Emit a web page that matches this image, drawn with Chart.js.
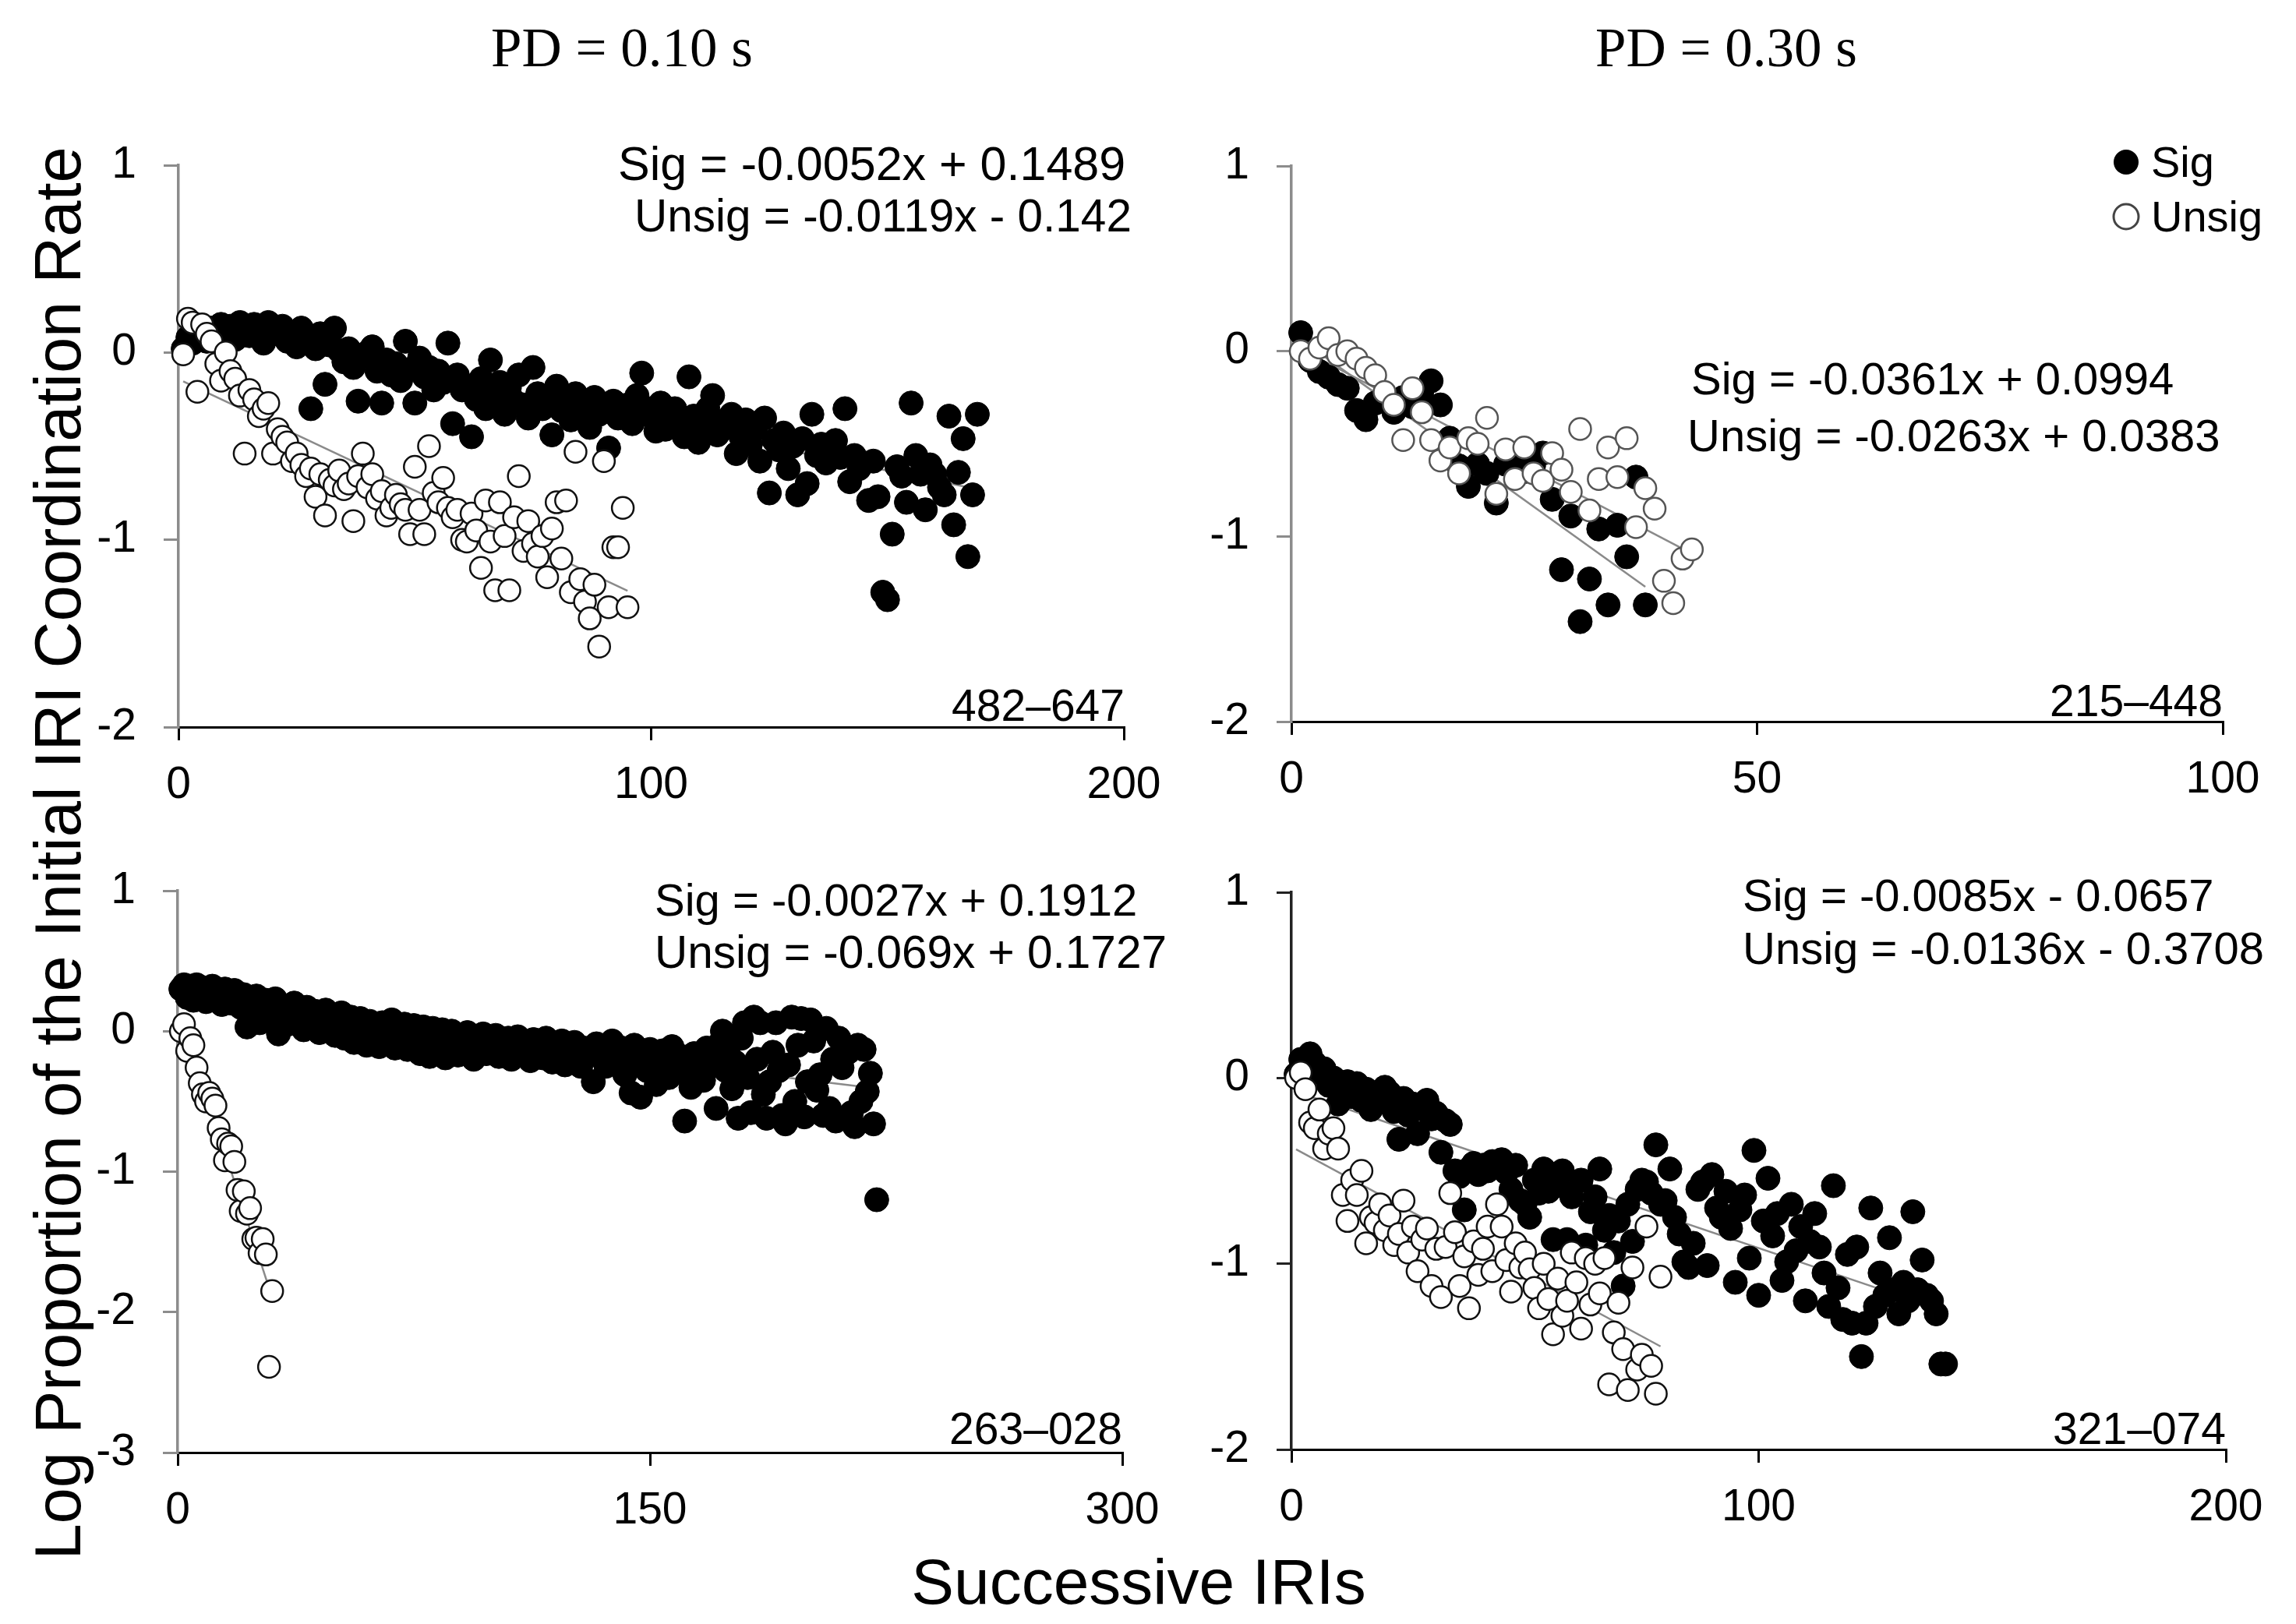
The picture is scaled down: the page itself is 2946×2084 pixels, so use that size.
<!DOCTYPE html>
<html><head><meta charset="utf-8">
<script src="https://cdn.jsdelivr.net/npm/chart.js@4.4.0/dist/chart.umd.min.js"></script>
<style>
html,body{margin:0;padding:0;background:#fff;}
#wrap{position:relative;width:2946px;height:2084px;background:#fff;overflow:hidden;}
#wrap canvas{position:absolute;left:0;top:0;}
</style></head><body>
<div id="wrap">
<canvas id="cTL" width="2946" height="2084"></canvas>
<canvas id="cTR" width="2946" height="2084"></canvas>
<canvas id="cBL" width="2946" height="2084"></canvas>
<canvas id="cBR" width="2946" height="2084"></canvas>
</div>
<script>
// ---------------- DATA ----------------
const seriesNames = ['Sig', 'Unsig'];
const panelTitles = ['PD = 0.10 s', 'PD = 0.30 s'];
const yAxisTitle = 'Log Proportion of the Initial IRI Coordination Rate';
const xAxisTitle = 'Successive IRIs';

// Top-left (PD = 0.10 s, 482–647)
const tlSig = [0.02,0.08,0.05,0.12,0.10,0.06,0.13,0.09,0.15,0.11,
 0.14,0.07,0.16,0.12,0.09,0.15,0.13,0.05,0.16,0.12,
 0.10,0.14,0.06,0.11,0.03,0.13,0.08,-0.30,0.02,0.10,
 -0.17,0.04,0.13,0.01,-0.05,0.02,-0.08,-0.26,-0.02,0.00,
 0.03,-0.10,-0.27,-0.04,-0.12,-0.06,-0.15,0.06,-0.09,-0.27,
 -0.03,-0.13,-0.08,-0.20,-0.10,-0.16,0.05,-0.38,-0.12,-0.20,
 -0.18,-0.45,-0.25,-0.14,-0.30,-0.04,-0.22,-0.16,-0.33,-0.19,
 -0.26,-0.12,-0.28,-0.35,-0.08,-0.22,-0.30,-0.25,-0.44,-0.18,
 -0.31,-0.27,-0.36,-0.22,-0.30,-0.28,-0.40,-0.24,-0.33,-0.29,
 -0.51,-0.26,-0.35,-0.31,-0.28,-0.38,-0.23,-0.11,-0.33,-0.30,
 -0.42,-0.27,-0.41,-0.36,-0.30,-0.38,-0.45,-0.13,-0.34,-0.48,
 -0.39,-0.30,-0.23,-0.44,-0.37,-0.40,-0.33,-0.54,-0.45,-0.36,
 -0.49,-0.41,-0.58,-0.35,-0.75,-0.47,-0.52,-0.43,-0.62,-0.50,
 -0.76,-0.46,-0.70,-0.33,-0.55,-0.49,-0.59,-0.52,-0.47,-0.56,
 -0.30,-0.69,-0.55,-0.62,-0.59,-0.79,-0.58,-0.77,-1.28,-1.32,
 -0.97,-0.61,-0.66,-0.80,-0.27,-0.55,-0.65,-0.84,-0.60,-0.65,
 -0.72,-0.76,-0.34,-0.92,-0.64,-0.46,-1.09,-0.76,-0.33];
const tlUnsig = [-0.01,0.18,0.16,-0.21,0.15,0.10,0.06,-0.06,-0.15,0.00,
 -0.10,-0.14,-0.23,-0.54,-0.20,-0.25,-0.34,-0.30,-0.27,-0.54,
 -0.41,-0.45,-0.48,-0.58,-0.54,-0.60,-0.66,-0.62,-0.77,-0.65,
 -0.87,-0.68,-0.71,-0.63,-0.73,-0.70,-0.90,-0.66,-0.54,-0.72,
 -0.65,-0.78,-0.74,-0.87,-0.83,-0.76,-0.81,-0.84,-0.97,-0.61,
 -0.84,-0.97,-0.50,-0.75,-0.80,-0.67,-0.83,-0.88,-0.84,-1.00,
 -1.01,-0.86,-0.95,-1.15,-0.79,-1.01,-1.27,-0.80,-0.98,-1.27,
 -0.88,-0.66,-1.06,-0.90,-1.02,-1.09,-0.98,-1.20,-0.94,-0.80,
 -1.10,-0.79,-1.28,-0.53,-1.21,-1.33,-1.42,-1.24,-1.57,-0.58,
 -1.36,-1.04,-1.04,-0.83,-1.36];
const tlSlopes = [-0.0052, -0.0119];
const tlIntercepts = [0.1489, -0.142];
const tlEquations = ['Sig = -0.0052x + 0.1489', 'Unsig = -0.0119x - 0.142'];
const tlTag = '482\u2013647';

// Top-right (PD = 0.30 s, 215–448)
const trSig = [0.10,-0.05,-0.11,-0.14,-0.18,-0.20,-0.32,-0.37,-0.28,-0.24,
 -0.33,-0.25,-0.30,-0.22,-0.16,-0.29,-0.47,-0.62,-0.73,-0.61,
 -0.66,-0.82,-0.61,-0.58,-0.65,-0.62,-0.55,-0.80,-1.18,-0.89,
 -1.46,-1.23,-0.96,-1.37,-0.94,-1.11,-0.68,-1.37];
const trUnsig = [0.00,-0.04,0.02,0.07,-0.02,0.00,-0.04,-0.09,-0.13,-0.22,
 -0.29,-0.48,-0.20,-0.33,-0.48,-0.59,-0.52,-0.66,-0.47,-0.50,
 -0.36,-0.77,-0.53,-0.69,-0.52,-0.66,-0.70,-0.55,-0.64,-0.76,
 -0.42,-0.86,-0.69,-0.52,-0.68,-0.47,-0.95,-0.74,-0.85,-1.24,
 -1.36,-1.12,-1.07];
const trSlopes = [-0.0361, -0.0263];
const trIntercepts = [0.0994, 0.0383];
const trEquations = ['Sig = -0.0361x + 0.0994', 'Unsig = -0.0263x + 0.0383'];
const trTag = '215\u2013448';

// Bottom-left (PD = 0.10 s, 263–028)
const blSig = [0.30,0.33,0.24,0.32,0.22,0.33,0.27,0.31,0.21,0.29,
 0.32,0.22,0.28,0.19,0.30,0.24,0.20,0.29,0.23,0.17,
 0.26,0.03,0.21,0.14,0.25,0.06,0.19,0.22,0.09,0.16,
 0.23,-0.02,0.12,0.18,0.05,0.15,0.20,0.07,0.13,0.01,
 0.17,0.04,0.10,0.14,-0.01,0.08,0.15,0.02,0.11,-0.03,
 0.09,0.13,-0.05,0.06,0.10,-0.08,0.04,0.09,-0.02,-0.10,
 0.07,-0.04,0.03,-0.11,0.06,0.01,-0.07,0.08,-0.12,0.02,
 -0.05,0.05,-0.13,0.00,0.04,-0.09,-0.16,0.03,-0.02,-0.18,
 0.02,-0.06,-0.14,0.01,-0.19,-0.03,0.00,-0.10,-0.17,-0.04,
 -0.08,-0.01,-0.15,-0.20,-0.05,-0.11,-0.02,-0.16,-0.07,-0.12,
 -0.03,-0.18,-0.09,-0.13,-0.05,-0.20,-0.10,-0.04,-0.15,-0.08,
 -0.12,-0.21,-0.06,-0.14,-0.09,-0.19,-0.05,-0.13,-0.22,-0.10,
 -0.16,-0.07,-0.24,-0.11,-0.18,-0.08,-0.14,-0.25,-0.12,-0.17,
 -0.15,-0.36,-0.09,-0.18,-0.11,-0.25,-0.14,-0.07,-0.20,-0.16,
 -0.12,-0.31,-0.19,-0.44,-0.10,-0.23,-0.47,-0.15,-0.28,-0.13,
 -0.20,-0.38,-0.17,-0.14,-0.26,-0.33,-0.11,-0.22,-0.29,-0.18,
 -0.64,-0.25,-0.40,-0.16,-0.30,-0.21,-0.35,-0.12,-0.25,-0.19,
 -0.55,-0.09,0.00,-0.28,-0.17,-0.41,-0.22,-0.62,-0.05,0.06,
 -0.33,-0.58,0.10,-0.20,0.06,-0.45,-0.62,-0.36,-0.15,0.06,
 -0.28,-0.60,-0.66,-0.24,0.10,-0.50,-0.10,0.09,-0.61,-0.36,
 0.08,-0.07,-0.42,-0.31,-0.60,0.02,-0.55,-0.20,-0.64,-0.05,
 -0.26,-0.62,-0.15,-0.58,-0.68,-0.10,-0.50,-0.13,-0.43,-0.30,
 -0.66,-1.20];
const blUnsig = [0.00,0.05,-0.14,-0.05,-0.10,-0.26,-0.37,-0.45,-0.50,-0.44,
 -0.48,-0.53,-0.69,-0.77,-0.92,-0.80,-0.82,-0.93,-1.13,-1.28,
 -1.14,-1.30,-1.26,-1.48,-1.47,-1.58,-1.48,-1.59,-2.39,-1.85];
const blSlopes = [-0.0027, -0.069];
const blIntercepts = [0.1912, 0.1727];
const blEquations = ['Sig = -0.0027x + 0.1912', 'Unsig = -0.069x + 0.1727'];
const blTag = '263\u2013028';

// Bottom-right (PD = 0.30 s, 321–074)
const brSig = [0.02,0.10,0.06,0.13,0.08,0.03,0.05,-0.04,0.00,-0.14,
 -0.08,-0.02,-0.10,-0.03,-0.12,-0.06,-0.17,-0.09,-0.13,-0.05,
 -0.08,-0.18,-0.33,-0.11,-0.20,-0.14,-0.30,-0.16,-0.12,-0.22,
 -0.19,-0.40,-0.23,-0.25,-0.50,-0.53,-0.71,-0.49,-0.46,-0.52,
 -0.47,-0.50,-0.45,-0.48,-0.44,-0.51,-0.60,-0.47,-0.66,-0.68,
 -0.75,-0.55,-0.62,-0.49,-0.61,-0.87,-0.58,-0.50,-0.87,-0.64,
 -0.93,-0.55,-0.90,-0.72,-0.64,-0.49,-0.82,-0.74,-0.94,-0.77,
 -1.12,-0.68,-0.88,-0.60,-0.55,-0.56,-0.62,-0.36,-0.68,-0.66,
 -0.49,-0.75,-0.84,-0.99,-1.02,-0.89,-0.60,-0.56,-1.01,-0.52,
 -0.70,-0.75,-0.61,-0.81,-1.10,-0.71,-0.63,-0.97,-0.39,-1.17,
 -0.77,-0.54,-0.85,-0.73,-1.09,-0.99,-0.68,-0.93,-0.80,-1.20,
 -0.88,-0.73,-0.91,-1.05,-1.23,-0.58,-1.13,-1.30,-0.95,-1.32,
 -0.91,-1.50,-1.32,-0.70,-1.23,-1.05,-1.17,-0.86,-1.14,-1.27,
 -1.10,-1.20,-0.72,-1.14,-0.98,-1.17,-1.20,-1.27,-1.54,-1.54];
const brUnsig = [0.00,0.03,-0.06,-0.24,-0.27,-0.17,-0.38,-0.30,-0.27,-0.38,
 -0.63,-0.77,-0.55,-0.63,-0.50,-0.89,-0.75,-0.78,-0.68,-0.82,
 -0.74,-0.90,-0.84,-0.66,-0.94,-0.80,-1.04,-0.87,-0.81,-1.12,
 -0.92,-1.18,-0.91,-0.62,-0.83,-1.12,-0.96,-1.24,-0.88,-1.06,
 -0.92,-0.80,-1.04,-0.68,-0.80,-0.98,-1.15,-0.89,-1.02,-0.94,
 -1.03,-1.13,-1.24,-1.00,-1.19,-1.38,-1.08,-1.28,-1.20,-0.94,
 -1.10,-1.35,-0.97,-1.22,-1.00,-1.16,-0.97,-1.65,-1.37,-1.21,
 -1.46,-1.68,-1.02,-1.57,-1.49,-0.80,-1.55,-1.70,-1.07];
const brSlopes = [-0.0085, -0.0136];
const brIntercepts = [-0.0657, -0.3708];
const brEquations = ['Sig = -0.0085x - 0.0657', 'Unsig = -0.0136x - 0.3708'];
const brTag = '321\u2013074';

// ---------------- LAYOUT ----------------
const W = 2946, H = 2084;
const Y_AXIS_W = 150, X_AXIS_H = 130;
const SANS = "'Liberation Sans', Arial, Helvetica, sans-serif";
const SERIF = "'Liberation Serif', 'Times New Roman', serif";

Chart.defaults.font.family = SANS;
Chart.defaults.color = '#000';

function textPlugin(items, legend) {
  return {
    id: 'panelText',
    afterDraw(chart) {
      const ctx = chart.ctx;
      ctx.save();
      items.forEach(t => {
        ctx.font = t.font;
        ctx.fillStyle = '#000';
        ctx.textAlign = t.align || 'left';
        ctx.textBaseline = 'alphabetic';
        if (t.rot) {
          ctx.save();
          ctx.translate(t.x, t.y);
          ctx.rotate(t.rot);
          ctx.fillText(t.text, 0, 0);
          ctx.restore();
        } else {
          ctx.fillText(t.text, t.x, t.y);
        }
      });
      if (legend) {
        legend.items.forEach((it, i) => {
          const cy = legend.y + i * legend.gap;
          ctx.beginPath();
          ctx.arc(legend.x, cy, legend.r, 0, Math.PI * 2);
          if (it.filled) { ctx.fillStyle = '#000'; ctx.fill(); }
          else { ctx.fillStyle = '#fff'; ctx.fill(); ctx.lineWidth = 3; ctx.strokeStyle = '#444'; ctx.stroke(); }
          ctx.font = legend.font;
          ctx.fillStyle = '#000';
          ctx.textAlign = 'left';
          ctx.textBaseline = 'middle';
          ctx.fillText(it.label, legend.textX, cy + 4);
        });
      }
      ctx.restore();
    }
  };
}

function makePanel(canvasId, L, sig, unsig, slopes, intercepts, texts, legend) {
  const [left, top, right, bottom] = L.box;
  const sigPts = sig.map((v, i) => ({x: i + 1, y: v}));
  const unsPts = unsig.map((v, i) => ({x: i + 1, y: v}));
  const fit = (k, n) => [{x: 1, y: slopes[k] * 1 + intercepts[k]}, {x: n, y: slopes[k] * n + intercepts[k]}];
  const lineStyle = {type: 'line', borderColor: '#8a8a8a', borderWidth: 2.5, pointRadius: 0, fill: false, clip: false, order: 3, tension: 0};
  new Chart(document.getElementById(canvasId), {
    type: 'scatter',
    data: {
      datasets: [
        Object.assign({label: 'Sig fit', data: fit(0, sig.length)}, lineStyle),
        Object.assign({label: 'Unsig fit', data: fit(1, unsig.length)}, lineStyle),
        {label: seriesNames[0], data: sigPts, pointRadius: 15.5, pointBorderWidth: 1,
         pointBackgroundColor: '#000', pointBorderColor: '#000', clip: false, order: 2},
        {label: seriesNames[1], data: unsPts, pointRadius: 14, pointBorderWidth: 2.5,
         pointBackgroundColor: '#fff', pointBorderColor: L.openColor, clip: false, order: 1}
      ]
    },
    options: {
      responsive: false, animation: false, devicePixelRatio: 1,
      events: [],
      layout: {padding: {left: left - Y_AXIS_W, top: top, right: W - right, bottom: H - bottom - X_AXIS_H}},
      plugins: {legend: {display: false}, tooltip: {enabled: false}},
      scales: {
        x: {
          type: 'linear', position: 'bottom', min: 0, max: L.xMax,
          ticks: {stepSize: L.xStep, padding: 24, font: {size: 57}, color: '#000', maxRotation: 0, autoSkip: false},
          grid: {drawOnChartArea: false, drawTicks: true, tickLength: 17, color: '#000', lineWidth: 3},
          border: {display: true, color: '#000', width: 3},
          afterFit(s) { s.height = X_AXIS_H; s.paddingLeft = 0; s.paddingRight = 0; }
        },
        y: {
          type: 'linear', position: 'left', min: L.yMin, max: L.yMax,
          ticks: {stepSize: 1, padding: 35, font: {size: 57}, color: '#000'},
          grid: {drawOnChartArea: false, drawTicks: true, tickLength: 19, color: L.yAxisColor, lineWidth: 3},
          border: {display: true, color: L.yAxisColor, width: 3.5},
          afterFit(s) { s.width = Y_AXIS_W; s.paddingTop = 0; s.paddingBottom = 0; }
        }
      }
    },
    plugins: [textPlugin(texts, legend)]
  });
}

const EQ = '58px ' + SANS;
const TAG = '57px ' + SANS;

makePanel('cTL',
  {box: [229, 212, 1442, 933], xMax: 200, xStep: 100, yMin: -2, yMax: 1, yAxisColor: '#8c8c8c', openColor: '#111'},
  tlSig, tlUnsig, tlSlopes, tlIntercepts,
  [
    {text: panelTitles[0], x: 798, y: 85, font: '71px ' + SERIF, align: 'center'},
    {text: panelTitles[1], x: 2215, y: 85, font: '71px ' + SERIF, align: 'center'},
    {text: yAxisTitle, x: 103, y: 1095, font: '83px ' + SANS, align: 'center', rot: -Math.PI / 2},
    {text: xAxisTitle, x: 1461, y: 2058, font: '82px ' + SANS, align: 'center'},
    {text: tlEquations[0], x: 793, y: 231, font: '61px ' + SANS},
    {text: tlEquations[1], x: 814, y: 297, font: '58.5px ' + SANS},
    {text: tlTag, x: 1443, y: 925, font: TAG, align: 'right'}
  ]);

makePanel('cTR',
  {box: [1657, 213, 2852, 926], xMax: 100, xStep: 50, yMin: -2, yMax: 1, yAxisColor: '#8c8c8c', openColor: '#555'},
  trSig, trUnsig, trSlopes, trIntercepts,
  [
    {text: trEquations[0], x: 2170, y: 506, font: EQ},
    {text: trEquations[1], x: 2165, y: 579, font: EQ},
    {text: trTag, x: 2852, y: 919, font: TAG, align: 'right'}
  ],
  {x: 2728, y: 208, gap: 70, r: 16, textX: 2760, font: '56px ' + SANS,
   items: [{label: seriesNames[0], filled: true}, {label: seriesNames[1], filled: false}]});

makePanel('cBL',
  {box: [228, 1143, 1440, 1864], xMax: 300, xStep: 150, yMin: -3, yMax: 1, yAxisColor: '#8c8c8c', openColor: '#111'},
  blSig, blUnsig, blSlopes, blIntercepts,
  [
    {text: blEquations[0], x: 840, y: 1175, font: EQ},
    {text: blEquations[1], x: 840, y: 1242, font: '58.5px ' + SANS},
    {text: blTag, x: 1440, y: 1853, font: TAG, align: 'right'}
  ]);

makePanel('cBR',
  {box: [1657, 1145, 2856, 1860], xMax: 200, xStep: 100, yMin: -2, yMax: 1, yAxisColor: '#222', openColor: '#111'},
  brSig, brUnsig, brSlopes, brIntercepts,
  [
    {text: brEquations[0], x: 2236, y: 1169, font: EQ},
    {text: brEquations[1], x: 2236, y: 1237, font: EQ},
    {text: brTag, x: 2856, y: 1853, font: TAG, align: 'right'}
  ]);
</script>
</body></html>
